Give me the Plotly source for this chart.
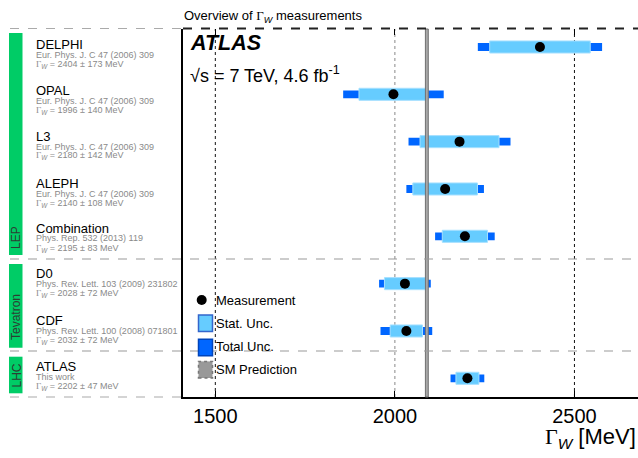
import plotly.graph_objects as go

# ---------------- data ----------------
experiments = ["DELPHI", "OPAL", "L3", "ALEPH", "Combination", "D0", "CDF", "ATLAS"]
references = ["Eur. Phys. J. C 47 (2006) 309", "Eur. Phys. J. C 47 (2006) 309",
              "Eur. Phys. J. C 47 (2006) 309", "Eur. Phys. J. C 47 (2006) 309",
              "Phys. Rep. 532 (2013) 119", "Phys. Rev. Lett. 103 (2009) 231802",
              "Phys. Rev. Lett. 100 (2008) 071801", "This work"]
gamma_w = [2404, 1996, 2180, 2140, 2195, 2028, 2032, 2202]
total_unc = [173, 140, 142, 108, 83, 72, 72, 47]
stat_unc = [140, 96, 110, 90, 63, 57, 45, 32]
sm_prediction = 2089
groups = ["LEP", "Tevatron", "LHC"]
x_ticks = [1500, 2000, 2500]

# ---------------- geometry helpers (pixels -> paper) ----------------
FW, FH = 638, 458
L, T, R, B = 183, 29, 638, 397
PW, PH = R - L, B - T


def px(x):
    return (x - L) / PW


def py(y):
    return 1 - (y - T) / PH


rows = list(range(len(experiments)))
FONT = "Liberation Sans, Arial, sans-serif"
SERIF = "Liberation Serif, Times New Roman, serif"
GAMMA = f'<span style="font-family:{SERIF}">Γ</span>'

fig = go.Figure()

fig.add_trace(go.Bar(
    y=rows, x=[2 * t for t in total_unc], base=[v - t for v, t in zip(gamma_w, total_unc)],
    orientation="h", width=0.165, marker=dict(color="#0066ff", line=dict(width=0)),
    hoverinfo="skip"))
fig.add_trace(go.Bar(
    y=rows, x=[2 * s for s in stat_unc], base=[v - s for v, s in zip(gamma_w, stat_unc)],
    orientation="h", width=0.255, marker=dict(color="#66ccff", line=dict(width=1, color="#a6e0ff")),
    hoverinfo="skip"))
fig.add_trace(go.Scatter(
    y=rows, x=gamma_w, mode="markers",
    marker=dict(color="black", size=10, symbol="circle"), hoverinfo="skip"))
# invisible trace for top axis ticks
fig.add_trace(go.Scatter(x=x_ticks, y=[0, 0, 0], xaxis="x2", mode="markers",
                         marker=dict(opacity=0), hoverinfo="skip"))

shapes = []
# gridlines
for xt in x_ticks:
    shapes.append(dict(type="line", xref="x", yref="paper", x0=xt, x1=xt, y0=0, y1=1,
                       line=dict(color="#888" if xt == 2000 else "#111", width=1, dash="dot"),
                       layer="below"))
# SM band
shapes.append(dict(type="rect", xref="x", yref="paper", x0=sm_prediction - 4, x1=sm_prediction + 4,
                   y0=0, y1=1, fillcolor="#a8a8a8", line=dict(color="#6f6f6f", width=1), layer="above"))
# separators
for ypx in [259, 351]:
    shapes.append(dict(type="line", xref="paper", yref="paper", x0=px(10), x1=1, y0=py(ypx), y1=py(ypx),
                       line=dict(color="#9a9a9a", width=1.2, dash="dash")))
# top and bottom dashed lines on the left
for ypx in [28.5, 397]:
    shapes.append(dict(type="line", xref="paper", yref="paper", x0=px(10), x1=0, y0=py(ypx), y1=py(ypx),
                       line=dict(color="#aaaaaa", width=1.2, dash="dash")))
# top frame (dashed dark)
shapes.append(dict(type="line", xref="paper", yref="paper", x0=0, x1=1, y0=py(28.5), y1=py(28.5),
                   line=dict(color="#222", width=2, dash="dash")))
# group bars
group_spans = [(33, 255), (264, 347.7), (356.7, 393.3)]
for (y0, y1) in group_spans:
    shapes.append(dict(type="rect", xref="paper", yref="paper", x0=px(9), x1=px(22.5),
                       y0=py(y1), y1=py(y0), fillcolor="#00cc66", line=dict(width=0)))

# legend symbols
shapes.append(dict(type="circle", xref="paper", yref="paper", xsizemode="pixel", ysizemode="pixel",
                   xanchor=px(201.7), yanchor=py(300), x0=-5, x1=5, y0=-5, y1=5,
                   fillcolor="black", line=dict(width=0)))
leg_boxes = [(323.3, "#66ccff", "#3366cc", "solid"), (347.5, "#0066ff", "#0044bb", "solid"),
             (369.7, "#999999", "#777777", "dot")]
for yc, fc, lc, dash in leg_boxes:
    shapes.append(dict(type="rect", xref="paper", yref="paper", x0=px(198.5), x1=px(212.5),
                       y0=py(yc + 8.3), y1=py(yc - 8.3), fillcolor=fc, line=dict(color=lc, width=1.5, dash=dash)))

annotations = []
leg_text = [("Measurement", 300), ("Stat. Unc.", 323.5), ("Total Unc.", 346.5), ("SM Prediction", 369.5)]
for txt, yc in leg_text:
    annotations.append(dict(text=txt, xref="paper", yref="paper", x=px(213.5), y=py(yc),
                            xanchor="left", yanchor="middle", showarrow=False,
                            font=dict(family=FONT, size=13, color="black")))

# left labels
name_y = [44, 90, 136, 183, 228, 273.5, 320, 366]
for i, name in enumerate(experiments):
    yn = name_y[i]
    annotations.append(dict(text=name, xref="paper", yref="paper", x=px(33.5), y=py(yn),
                            xanchor="left", yanchor="middle", showarrow=False,
                            font=dict(family=FONT, size=13, color="black")))
    annotations.append(dict(text=references[i], xref="paper", yref="paper", x=px(34), y=py(yn + 10.5),
                            xanchor="left", yanchor="middle", showarrow=False,
                            font=dict(family=FONT, size=9, color="#8a8a8a")))
    annotations.append(dict(text=f"{GAMMA}<sub><i>W</i></sub> = {gamma_w[i]} ± {total_unc[i]} MeV",
                            xref="paper", yref="paper", x=px(34), y=py(yn + 20),
                            xanchor="left", yanchor="middle", showarrow=False,
                            font=dict(family=FONT, size=9, color="#8a8a8a")))

group_label_y = [238, 317, 375.5]
for g, yc in zip(groups, group_label_y):
    annotations.append(dict(text=g, xref="paper", yref="paper", x=px(16), y=py(yc),
                            xanchor="center", yanchor="middle", textangle=-90, showarrow=False,
                            font=dict(family=FONT, size=12, color="#2d3d33")))

# title, ATLAS labels, axis title
annotations.append(dict(text=f"Overview of {GAMMA}<sub><i>W</i></sub> measurements", xref="paper", yref="paper",
                        x=px(182), y=py(16), xanchor="left", yanchor="middle", showarrow=False,
                        font=dict(family=FONT, size=13, color="black")))
annotations.append(dict(text="<b><i>ATLAS</i></b>", xref="paper", yref="paper", x=px(188), y=py(42.5),
                        xanchor="left", yanchor="middle", showarrow=False,
                        font=dict(family=FONT, size=21.5, color="black")))
annotations.append(dict(text="√s = 7 TeV, 4.6 fb<sup>-1</sup>", xref="paper", yref="paper", x=px(188),
                        y=py(74), xanchor="left", yanchor="middle", showarrow=False,
                        font=dict(family=FONT, size=18, color="black")))
annotations.append(dict(text=f"{GAMMA}<sub><i>W</i></sub> [MeV]", xref="paper", yref="paper", x=1.0,
                        y=py(438), xanchor="right", yanchor="middle", showarrow=False,
                        font=dict(family=FONT, size=22, color="black")))

x_range = [1410, 2677]
fig.update_layout(
    width=FW, height=FH, margin=dict(l=L, r=FW - R, t=T, b=FH - B, autoexpand=False),
    paper_bgcolor="white", plot_bgcolor="white", showlegend=False, barmode="overlay",
    xaxis=dict(range=x_range, tickvals=x_ticks, ticktext=[str(v) for v in x_ticks],
               ticks="inside", ticklen=6, tickwidth=1, tickcolor="black",
               showline=True, linecolor="black", linewidth=2, showgrid=False, zeroline=False,
               tickfont=dict(family=FONT, size=20, color="black"), automargin=False),
    xaxis2=dict(range=x_range, overlaying="x", side="top", tickvals=x_ticks, showticklabels=False,
                ticks="inside", ticklen=6, tickwidth=1, tickcolor="black", showline=False,
                showgrid=False, zeroline=False, automargin=False),
    yaxis=dict(range=[7.395, -0.38], showticklabels=False, ticks="", showgrid=False, zeroline=False,
               showline=True, linecolor="black", linewidth=2, automargin=False),
    shapes=shapes, annotations=annotations,
)

fig.write_html("out.html", config={"displayModeBar": False},
               post_script="document.body.style.margin='0';document.body.style.overflow='hidden';")
